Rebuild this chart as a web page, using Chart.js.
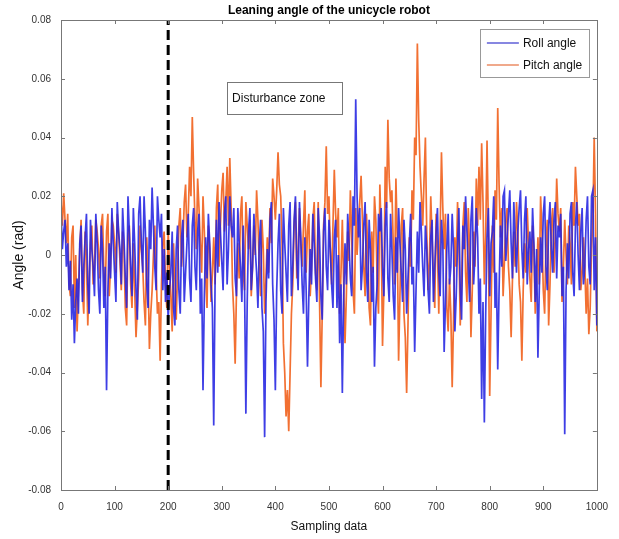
<!DOCTYPE html>
<html>
<head>
<meta charset="utf-8">
<script src="https://cdn.jsdelivr.net/npm/chart.js@4/dist/chart.umd.min.js"></script>
<style>
  html, body { margin: 0; padding: 0; background: #fff; }
  #wrap { width: 619px; height: 539px; }
</style>
</head>
<body>
<div id="wrap"><canvas id="c" width="619" height="539"></canvas></div>
<script>
// ---- data ----
const titleText = 'Leaning angle of the unicycle robot';
const xTitle = 'Sampling data';
const yTitle = 'Angle (rad)';
const seriesNames = ['Roll angle', 'Pitch angle'];
const annotationText = 'Disturbance zone';
const disturbanceStart = 200;
const sampleStep = 2.5;
const xTickLabels = ['0','100','200','300','400','500','600','700','800','900','1000'];
const yTickLabels = ['-0.08','-0.06','-0.04','-0.02','0','0.02','0.04','0.06','0.08'];

const rollAngle = [
  0.016, 0.002, 0.008, 0.012, -0.004, 0.004, -0.012, -0.002, -0.022, -0.010,
  -0.030, -0.016, -0.008, -0.020, 0.004, 0.010, -0.016, -0.004, 0.006, 0.014,
  -0.010, -0.020, 0.012, 0.002, -0.004, -0.014, 0.014, 0.004, -0.012, -0.020,
  0.010, 0.002, -0.018, -0.004, -0.046, -0.012, 0.004, -0.008, 0.016, 0.004,
  -0.006, -0.016, 0.018, 0.008, 0.002, -0.010, 0.016, 0.006, -0.008, -0.018,
  0.020, 0.008, -0.004, -0.014, 0.016, 0.004, -0.012, -0.022, 0.014, 0.020,
  0.004, -0.006, 0.020, 0.008, -0.010, -0.018, 0.012, 0.002, 0.023, 0.010,
  -0.004, -0.012, 0.020, 0.012, 0.006, 0.014, -0.012, 0.002, -0.016, -0.006,
  -0.022,
  -0.012, -0.006, 0.008, -0.018, -0.024, 0.002, 0.010, -0.012, -0.020, 0.006,
  0.012, -0.016, -0.006, 0.004, 0.014, -0.008, -0.016, 0.010, 0.016, -0.004,
  -0.012, 0.008, 0.014, -0.020, -0.008, -0.046, -0.014, 0.006, -0.008, 0.014,
  0.004, -0.010, -0.018, -0.058, -0.010, 0.012, -0.006, 0.018, 0.008, -0.002,
  -0.012, 0.014, 0.020, -0.010, 0.002, 0.020, 0.010, 0.006, 0.016, -0.008,
  -0.014, 0.016, 0.004, -0.004, -0.016, 0.010, -0.010, -0.054, -0.016, 0.008,
  0.016, -0.012, -0.004, 0.014, 0.002, -0.006, -0.018, 0.004, 0.012, -0.018,
  -0.026, -0.062, -0.016, 0.002, -0.008, 0.012, 0.018, -0.010, -0.022, -0.046,
  -0.012, 0.004, 0.014, -0.012, -0.020, 0.016, 0.004, -0.006, -0.016, 0.010,
  0.018, -0.014, -0.004, 0.012, 0.020, -0.002, -0.012, 0.018, 0.006, -0.010,
  -0.020, 0.006, -0.012, -0.038, -0.014, 0.002, -0.010, 0.014, 0.004, -0.008,
  -0.016, 0.016, 0.006, -0.014, -0.022, 0.008, 0.016, -0.004, -0.012, 0.012,
  0.002, -0.010, -0.018, 0.006, 0.012, -0.018, 0.000, -0.030, -0.010, -0.047,
  -0.014, 0.004, -0.010, 0.014, 0.004, -0.008, -0.014, 0.020, 0.010, 0.053,
  0.020, 0.006, 0.016, -0.012, -0.004, 0.010, 0.018, -0.006, -0.016, 0.012,
  0.002, -0.016, -0.004, -0.038, -0.018, -0.010, 0.014, 0.008, 0.016, -0.004,
  -0.014, 0.010, 0.018, -0.008, -0.016, 0.014, 0.002, -0.014, -0.022, 0.006,
  -0.006, 0.016, 0.004, -0.006, -0.016, 0.012, 0.002, -0.020, -0.008, 0.004,
  0.014, -0.010, -0.004, -0.033, -0.012, 0.008, -0.006, 0.018, 0.008, -0.004,
  -0.014, 0.010, 0.002, -0.012, -0.020, 0.006, 0.012, -0.016, -0.004, 0.008,
  0.016, -0.006, -0.014, 0.012, 0.004, -0.033, -0.016, 0.002, 0.014, -0.010,
  -0.004, 0.014, 0.002, -0.026, -0.014, 0.004, 0.016, -0.012, -0.022, 0.010,
  0.002, 0.020, 0.008, -0.004, -0.016, 0.012, 0.020, -0.010, 0.000, 0.016,
  0.006, -0.020, -0.008, -0.049, -0.016, -0.057, -0.020, 0.006, 0.016, -0.014,
  0.004, 0.008, 0.020, -0.018, -0.006, -0.039, -0.012, 0.010, -0.004, 0.020,
  0.022, -0.002, 0.006, 0.014, 0.022, 0.004, -0.008, 0.018, 0.006, -0.006,
  0.008, 0.016, 0.022, 0.002, -0.008, 0.012, 0.020, -0.010, 0.002, 0.008,
  -0.006, 0.016, 0.004, -0.016, 0.002, -0.035, -0.012, 0.006, -0.006, 0.014,
  0.020, -0.004, -0.012, 0.010, 0.018, 0.002, -0.006, 0.012, 0.018, -0.008,
  0.010, 0.006, 0.014, -0.014, -0.004, -0.061, -0.012, 0.004, -0.008, 0.014,
  0.018, -0.006, -0.014, 0.010, 0.018, 0.000, -0.012, 0.008, 0.016, -0.010,
  -0.004, 0.012, 0.020, -0.004, -0.010, 0.020, 0.022, -0.012, 0.006, -0.024
];

const pitchAngle = [
  0.018, 0.010, 0.021, 0.012, 0.004, 0.014, -0.010, -0.014, 0.006, 0.010,
  -0.018, 0.000, -0.026, -0.012, 0.002, 0.012, -0.012, -0.020, 0.008, 0.000,
  -0.024, -0.008, 0.004, 0.010, -0.010, -0.004, 0.012, 0.008, 0.002, -0.008,
  0.010, 0.014, -0.006, -0.014, 0.008, 0.014, -0.014, -0.004, 0.012, 0.010,
  0.004, -0.006, 0.014, 0.008, -0.002, -0.012, 0.008, 0.002, -0.018, -0.024,
  0.006, 0.010, -0.010, -0.018, 0.004, -0.012, -0.028, -0.018, -0.008, 0.010,
  0.002, -0.004, -0.016, -0.024, 0.006, -0.006, -0.032, -0.020, -0.012, 0.000,
  0.010, -0.006, -0.020, -0.016, -0.036, -0.010, 0.004, 0.008, -0.010, -0.018,
  0.008,
  -0.004, -0.014, -0.026, 0.004, -0.008, -0.022, -0.006, 0.010, 0.016, -0.004,
  0.004, 0.018, 0.024, 0.006, 0.014, 0.030, 0.020, 0.047, 0.028, 0.012,
  0.002, 0.026, 0.016, 0.004, -0.006, 0.020, 0.008, -0.008, -0.018, 0.010,
  0.002, -0.016, -0.006, 0.006, -0.010, 0.016, 0.024, -0.004, 0.010, 0.022,
  0.028, 0.008, 0.018, 0.030, 0.010, 0.033, 0.016, -0.010, -0.020, -0.037,
  -0.012, 0.004, -0.008, 0.014, 0.020, -0.006, -0.012, 0.018, 0.010, 0.002,
  0.012, -0.014, -0.004, 0.010, 0.000, 0.022, 0.012, -0.004, -0.014, 0.012,
  0.002, -0.020, -0.008, 0.006, -0.006, 0.016, 0.004, 0.026, 0.020, 0.012,
  0.022, 0.035, 0.024, 0.020, 0.004, -0.030, -0.040, -0.055, -0.046, -0.060,
  -0.040, -0.020, -0.010, 0.010, 0.018, -0.008, 0.002, 0.016, 0.004, -0.004,
  0.010, 0.022, -0.006, 0.008, 0.014, -0.014, -0.004, 0.012, 0.018, -0.006,
  -0.012, 0.018, -0.016, -0.045, -0.020, 0.010, 0.018, 0.037, 0.014, 0.020,
  0.002, -0.010, 0.010, 0.029, 0.014, 0.006, 0.016, -0.020, -0.006, 0.012,
  -0.010, -0.030, -0.014, 0.008, -0.002, 0.022, 0.006, -0.012, -0.020, 0.016,
  0.000, 0.010, 0.018, 0.027, 0.012, -0.004, -0.014, 0.014, 0.002, -0.018,
  -0.024, 0.008, -0.006, 0.020, 0.012, -0.010, -0.020, 0.024, 0.008, -0.031,
  -0.012, 0.030, 0.016, 0.046, 0.026, 0.018, 0.022, 0.004, -0.010, 0.026,
  0.006, -0.036, -0.014, 0.010, 0.016, -0.020, -0.028, -0.047, -0.024, 0.006,
  -0.004, 0.022, 0.012, 0.040, 0.034, 0.072, 0.046, 0.030, 0.020, 0.010,
  0.026, 0.040, 0.008, -0.012, -0.002, 0.020, 0.006, -0.008, -0.018, 0.014,
  0.002, -0.020, 0.008, 0.035, 0.016, 0.002, 0.014, -0.018, -0.026, -0.008,
  -0.020, -0.045, -0.022, 0.006, -0.004, 0.018, 0.004, -0.024, -0.010, 0.010,
  0.018, -0.006, -0.016, 0.016, 0.002, -0.028, -0.012, 0.008, -0.004, 0.026,
  0.010, 0.030, 0.012, 0.038, 0.018, -0.010, 0.006, 0.039, 0.010, -0.048,
  -0.020, 0.010, -0.006, 0.022, 0.012, 0.050, 0.024, 0.006, 0.016, -0.014,
  -0.002, 0.012, 0.016, -0.004, -0.012, -0.028, -0.008, 0.008, -0.004, 0.018,
  0.008, -0.010, -0.016, -0.036, -0.012, 0.004, -0.006, 0.016, 0.004, -0.008,
  -0.016, 0.010, 0.002, -0.020, -0.008, 0.006, -0.010, 0.020, 0.008, -0.012,
  -0.020, 0.004, 0.012, -0.024, -0.010, 0.010, 0.016, -0.006, 0.006, 0.026,
  0.014, 0.008, 0.016, -0.016, -0.004, 0.012, 0.000, -0.010, 0.010, 0.004,
  -0.010, 0.018, 0.010, 0.030, 0.020, 0.010, 0.014, -0.012, -0.006, 0.006,
  -0.004, -0.020, -0.008, -0.027, -0.018, 0.002, 0.012, 0.040, 0.014, -0.026
];

// sample index of each reading (category axis)
const samples = rollAngle.map((_, i) => i * sampleStep);

const FONT = '"Liberation Sans", Arial, Helvetica, sans-serif';
const BLUE = 'rgba(35,35,225,0.88)';
const ORANGE = 'rgb(242,112,50)';

const frameAndExtras = {
  id: 'frameAndExtras',
  afterDatasetsDraw(chart) {
    const { ctx, chartArea: a, scales: { x, y } } = chart;
    ctx.save();
    // box
    ctx.strokeStyle = '#777';
    ctx.lineWidth = 1;
    ctx.strokeRect(Math.round(a.left) + 0.5, Math.round(a.top) + 0.5,
                   Math.round(a.right - a.left), Math.round(a.bottom - a.top));
    // inward ticks on all sides
    const tl = 4;
    ctx.beginPath();
    x.ticks.forEach((t, i) => {
      const px = Math.round(x.getPixelForTick(i)) + 0.5;
      ctx.moveTo(px, a.bottom); ctx.lineTo(px, a.bottom - tl);
      ctx.moveTo(px, a.top); ctx.lineTo(px, a.top + tl);
    });
    y.ticks.forEach((t, i) => {
      const py = Math.round(y.getPixelForTick(i)) + 0.5;
      ctx.moveTo(a.left, py); ctx.lineTo(a.left + tl, py);
      ctx.moveTo(a.right, py); ctx.lineTo(a.right - tl, py);
    });
    ctx.stroke();

    // "Disturbance zone" text box
    const bx = x.getPixelForValue(310), by = y.getPixelForValue(0.059);
    const bw = x.getPixelForValue(525) - bx, bh = y.getPixelForValue(0.048) - by;
    ctx.fillStyle = '#fff';
    ctx.fillRect(bx, by, bw, bh);
    ctx.strokeStyle = '#777';
    ctx.strokeRect(Math.round(bx) + 0.5, Math.round(by) + 0.5, Math.round(bw), Math.round(bh));
    ctx.fillStyle = '#111';
    ctx.font = '12px ' + FONT;
    ctx.textBaseline = 'middle';
    ctx.textAlign = 'left';
    ctx.fillText(annotationText, bx + 5, by + bh / 2 + 0.5);

    // legend
    const lx = a.right - 117, ly = a.top + 9, lw = 109, lh = 48;
    ctx.fillStyle = '#fff';
    ctx.fillRect(lx, ly, lw, lh);
    ctx.strokeStyle = '#999';
    ctx.strokeRect(Math.round(lx) + 0.5, Math.round(ly) + 0.5, lw, lh);
    const rows = [[seriesNames[0], 'rgb(95,95,215)', ly + 14], [seriesNames[1], 'rgb(235,140,100)', ly + 36]];
    rows.forEach(([txt, col, yy]) => {
      ctx.strokeStyle = col; ctx.lineWidth = 1.5;
      ctx.beginPath(); ctx.moveTo(lx + 7, yy); ctx.lineTo(lx + 39, yy); ctx.stroke();
      ctx.fillStyle = '#111';
      ctx.fillText(txt, lx + 43, yy + 0.5);
    });
    ctx.restore();
  }
};

new Chart(document.getElementById('c'), {
  type: 'line',
  data: {
    labels: samples,
    datasets: [
      {
        label: 'disturbance',
        data: [{ x: disturbanceStart, y: -0.08 }, { x: disturbanceStart, y: 0.08 }],
        borderColor: '#000', borderWidth: 3, borderDash: [10, 5],
        pointRadius: 0, order: 0
      },
      {
        label: seriesNames[0], data: rollAngle,
        borderColor: BLUE, borderWidth: 1.7, pointRadius: 0, tension: 0, order: 1
      },
      {
        label: seriesNames[1], data: pitchAngle,
        borderColor: ORANGE, borderWidth: 1.7, pointRadius: 0, tension: 0, order: 2
      }
    ]
  },
  options: {
    responsive: false,
    animation: false,
    events: [],
    layout: { padding: { left: 0, right: 21, top: 0, bottom: 0 } },
    plugins: {
      legend: { display: false },
      tooltip: { enabled: false },
      title: {
        display: true, text: titleText, fullSize: false,
        color: '#000', font: { family: FONT, size: 12, weight: 'bold', lineHeight: 1 },
        padding: { top: 5, bottom: 3 }
      }
    },
    scales: {
      x: {
        type: 'linear', min: 0, max: 1000,
        afterFit: s => { s.height = 49; },
        afterBuildTicks: s => { s.ticks = xTickLabels.map(v => ({ value: Number(v) })); },
        grid: { display: false, drawTicks: false },
        border: { display: false },
        ticks: {
          color: '#333', padding: 11, maxRotation: 0, autoSkip: false,
          font: { family: FONT, size: 10 },
          callback: (v, i) => xTickLabels[i]
        },
        title: {
          display: true, text: xTitle, color: '#111',
          font: { family: FONT, size: 12 }, padding: { top: 0, bottom: 5 }
        }
      },
      y: {
        type: 'linear', min: -0.08, max: 0.08,
        afterFit: s => { s.width = 61; },
        afterBuildTicks: s => { s.ticks = yTickLabels.map(v => ({ value: Number(v) })); },
        grid: { display: false, drawTicks: false },
        border: { display: false },
        ticks: {
          color: '#333', padding: 10, autoSkip: false,
          font: { family: FONT, size: 10 },
          callback: (v, i) => yTickLabels[i]
        },
        title: {
          display: true, text: yTitle, color: '#111',
          font: { family: FONT, size: 14 }, padding: { top: 11, bottom: 0 }
        }
      }
    }
  },
  plugins: [frameAndExtras]
});
</script>
</body>
</html>
